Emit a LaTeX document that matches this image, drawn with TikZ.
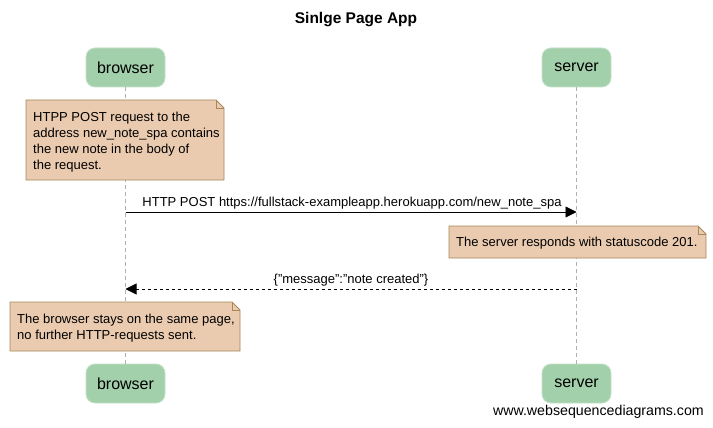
\documentclass[tikz,border=0pt]{standalone}
\usepackage{fontspec}
\setmainfont{Liberation Sans}
\usetikzlibrary{arrows.meta}
\definecolor{actfill}{HTML}{A2D0AA}
\definecolor{actdraw}{HTML}{C4E2C9}
\definecolor{notefill}{HTML}{EACBB0}
\definecolor{notedraw}{HTML}{A8875A}
\definecolor{lifeline}{HTML}{B0B0B0}
\tikzset{
  actor/.style={rectangle, rounded corners=9pt, fill=actfill, draw=actdraw, line width=0.8pt, inner sep=0pt, font=\fontsize{16}{18}\selectfont},
  lifel/.style={draw=lifeline, dash pattern=on 4pt off 3pt, line width=0.6pt},
  msg/.style={-{Triangle[length=11pt,width=11pt]}, line width=0.8pt},
  lbl/.style={font=\fontsize{13}{15}\selectfont, inner sep=0pt},
  notetext/.style={font=\fontsize{13}{16}\selectfont, align=left, anchor=north west, inner sep=0pt}
}
\newcommand{\notebox}[5]{% x1,y1,x2,y2,name
  \fill[notefill] (#1,#2) -- (#3-8,#2) -- (#3,#2+8) -- (#3,#4) -- (#1,#4) -- cycle;
  \draw[notedraw, line width=0.8pt] (#1,#2) -- (#3-8,#2) -- (#3,#2+8) -- (#3,#4) -- (#1,#4) -- cycle;
  \draw[notedraw, line width=0.6pt] (#3-8,#2) -- (#3-8,#2+8) -- (#3,#2+8);
  \coordinate (#5) at (#1,#2);
}
\begin{document}
\begin{tikzpicture}[x=1pt,y=-1pt]
\useasboundingbox (0,0) rectangle (713,428);
\fill[white] (0,0) rectangle (713,428);
\node[font=\bfseries\fontsize{15.5}{18}\selectfont] (title) at (356,20) {Sinlge Page App};
% actors
\node[actor, minimum width=79pt, minimum height=39pt] (bt) at (125.5,67.5) {browser};
\node[actor, minimum width=69pt, minimum height=39pt] (st) at (576.5,67.5) {server};
\node[actor, minimum width=79pt, minimum height=39pt] (bb) at (125.5,383.5) {browser};
\node[actor, minimum width=69pt, minimum height=39pt] (sb) at (576.5,383.5) {server};
% lifelines
\draw[lifel] (bt.south) -- (bb.north);
\draw[lifel] (st.south) -- (sb.north);
% note 1
\notebox{26}{100}{224}{180}{n1}
\node[notetext] (n1t) at (33,112) {HTPP POST request to the\\address new\_note\_spa contains\\the new note in the body of\\the request.};
% message 1
\coordinate (m1a) at (125.5,212);
\coordinate (m1b) at (576.5,212);
\draw[msg] (m1a) -- (m1b);
\node[lbl] (m1l) at (352,203.5) {HTTP POST https://fullstack-exampleapp.herokuapp.com/new\_note\_spa};
% note 2
\notebox{449}{226}{706}{258}{n2}
\node[notetext] (n2t) at (456,237) {The server responds with statuscode 201.};
% message 2
\coordinate (m2a) at (576.5,289);
\coordinate (m2b) at (125.5,289);
\draw[msg, dashed] (m2a) -- (m2b);
\node[lbl] (m2l) at (351,280.5) {\{"message":"note created"\}};
% note 3
\notebox{10}{302}{240}{351}{n3}
\node[notetext] (n3t) at (17,314) {The browser stays on the same page,\\no further HTTP-requests sent.};
% footer
\node[font=\fontsize{14.2}{16}\selectfont, anchor=east, inner sep=0pt] (footer) at (704,412) {www.websequencediagrams.com};
\end{tikzpicture}
\end{document}
